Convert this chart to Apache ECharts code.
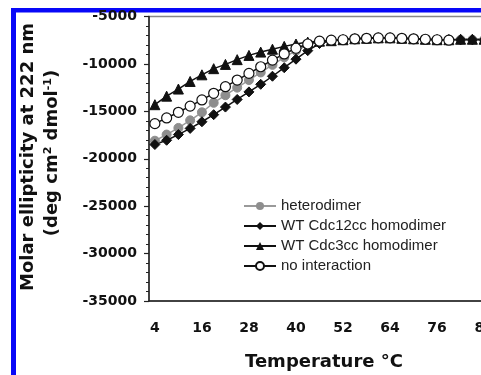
<!DOCTYPE html>
<html>
<head>
<meta charset="utf-8">
<script src="https://cdn.jsdelivr.net/npm/echarts@6.0.0/dist/echarts.min.js"></script>
<style>
  html, body { margin: 0; padding: 0; background: #fff; overflow: hidden; }
  /* the figure is cropped on the right: draw wider than the window */
  #chart { width: 500px; height: 375px; }
</style>
</head>
<body>
<div id="chart"></div>
<script>
// temperatures (°C), one reading every 3 degrees
var temps = [4, 7, 10, 13, 16, 19, 22, 25, 28, 31, 34, 37, 40, 43, 46, 49, 52, 55, 58, 61, 64, 67, 70, 73, 76, 79, 82, 85, 88];

// molar ellipticity at 222 nm
var heterodimer = [-18100, -17450, -16750, -15950, -15100, -14100, -13300, -12500, -11700, -10900, -10100, -9300, -8600, -8000, -7650, -7500, -7450, -7350, -7300, -7250, -7250, -7300, -7350, -7400, -7450, -7450, -7450, -7450, -7450];
var cdc12cc = [-18500, -18050, -17450, -16800, -16100, -15350, -14550, -13750, -12950, -12150, -11300, -10400, -9500, -8600, -7850, -7550, -7450, -7350, -7300, -7250, -7250, -7300, -7350, -7400, -7450, -7450, -7450, -7450, -7450];
var cdc3cc = [-14300, -13400, -12650, -11850, -11150, -10500, -10050, -9550, -9100, -8750, -8450, -8150, -7900, -7700, -7600, -7550, -7450, -7350, -7300, -7250, -7250, -7300, -7350, -7400, -7450, -7450, -7400, -7400, -7400];
var noInteraction = [-16300, -15700, -15100, -14450, -13800, -13100, -12400, -11700, -11000, -10300, -9600, -8950, -8350, -7900, -7600, -7500, -7450, -7350, -7300, -7250, -7250, -7300, -7350, -7400, -7450, -7500];

var yTicks = { min: -35000, max: -5000, step: 5000 };

var boldFont = '"DejaVu Sans"';
var mychart = echarts.init(document.getElementById('chart'));

var option = {
  animation: false,
  backgroundColor: '#fff',
  grid: {
    left: 149,
    top: 16.5,
    width: 341,
    height: 284.5,
    show: true,
    borderColor: '#888',
    borderWidth: 1.5,
    backgroundColor: 'transparent'
  },
  legend: {
    orient: 'vertical',
    left: 238,
    top: 193,
    itemWidth: 32,
    itemHeight: 10,
    itemGap: 4,
    textStyle: { fontFamily: '"Liberation Sans"', fontSize: 15, color: '#222', lineHeight: 16 },
    data: ['heterodimer', 'WT Cdc12cc homodimer', 'WT Cdc3cc homodimer', 'no interaction']
  },
  xAxis: {
    type: 'category',
    data: temps,
    boundaryGap: true,
    axisLine: { lineStyle: { color: '#222', width: 1.5 } },
    axisTick: { interval: 1, length: 5, lineStyle: { color: '#222', width: 1.2 } },
    axisLabel: { interval: 3, margin: 20, fontFamily: boldFont, fontWeight: 'bold', fontSize: 14, color: '#111' },
    splitLine: { show: false }
  },
  yAxis: {
    type: 'value',
    min: yTicks.min,
    max: yTicks.max,
    interval: yTicks.step,
    axisLine: { show: true, lineStyle: { color: '#222', width: 1.5 } },
    axisTick: { show: true, length: 5, lineStyle: { color: '#222', width: 1.2 } },
    minorTick: { show: true, splitNumber: 5, length: 3, lineStyle: { color: '#222', width: 1 } },
    axisLabel: {
      margin: 12, fontFamily: boldFont, fontWeight: 'bold', fontSize: 14, color: '#111',
      formatter: function (v) { return String(v); }
    },
    splitLine: { show: false }
  },
  graphic: [
    { type: 'rect', shape: { x: 11, y: 8, width: 490, height: 4.5 }, style: { fill: '#0808f8' } },
    { type: 'rect', shape: { x: 11, y: 8, width: 5, height: 367 }, style: { fill: '#0808f8' } },
    {
      type: 'text', x: 28, y: 157, rotation: Math.PI / 2,
      style: {
        text: 'Molar ellipticity at 222 nm',
        font: 'bold 18px "DejaVu Sans"', fill: '#111',
        align: 'center', verticalAlign: 'middle', textAlign: 'center', textVerticalAlign: 'middle'
      }
    },
    {
      type: 'text', x: 52, y: 153, rotation: Math.PI / 2,
      style: {
        text: '{b|(deg cm}{s|2}{b| dmol}{s|-1}{b|)}',
        align: 'center', verticalAlign: 'middle', textAlign: 'center', textVerticalAlign: 'middle',
        rich: {
          b: { font: 'bold 18px "DejaVu Sans"', fill: '#111', color: '#111' },
          s: { font: 'bold 11px "DejaVu Sans"', fill: '#111', color: '#111', verticalAlign: 'top' }
        }
      }
    },
    {
      type: 'text', x: 324, y: 362,
      style: {
        text: 'Temperature °C',
        font: 'bold 18px "DejaVu Sans"', fill: '#111',
        align: 'center', verticalAlign: 'middle', textAlign: 'center', textVerticalAlign: 'middle'
      }
    }
  ],
  series: [
    {
      name: 'heterodimer', type: 'line', data: heterodimer,
      symbol: 'circle', symbolSize: 9, showAllSymbol: true,
      lineStyle: { color: '#9a9a9a', width: 1.5 },
      itemStyle: { color: '#8e8e8e', borderColor: '#8e8e8e' }
    },
    {
      name: 'WT Cdc12cc homodimer', type: 'line', data: cdc12cc,
      symbol: 'diamond', symbolSize: 10, showAllSymbol: true,
      lineStyle: { color: '#111', width: 1.5 },
      itemStyle: { color: '#111', borderColor: '#111' }
    },
    {
      name: 'WT Cdc3cc homodimer', type: 'line', data: cdc3cc,
      symbol: 'triangle', symbolSize: 10, showAllSymbol: true,
      lineStyle: { color: '#111', width: 1.5 },
      itemStyle: { color: '#111', borderColor: '#111' }
    },
    {
      name: 'no interaction', type: 'line', data: noInteraction,
      symbol: 'circle', symbolSize: 10, showAllSymbol: true,
      lineStyle: { color: '#111', width: 1.5 },
      itemStyle: { color: '#fff', borderColor: '#111', borderWidth: 1.2 }
    }
  ]
};
option && mychart.setOption(option);
</script>
</body>
</html>
